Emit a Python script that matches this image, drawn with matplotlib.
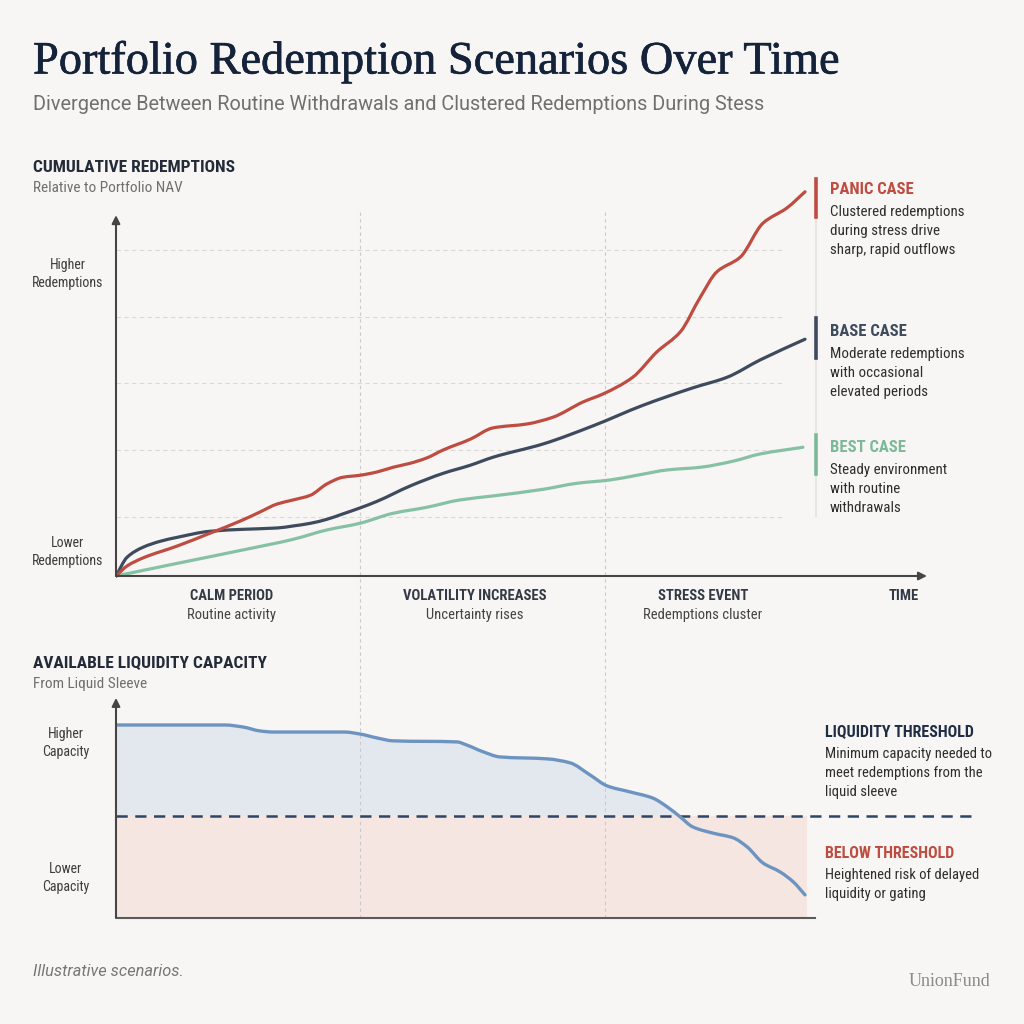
import matplotlib
matplotlib.use("Agg")
import matplotlib.pyplot as plt
from matplotlib import font_manager
from matplotlib.lines import Line2D
from matplotlib.path import Path
from matplotlib.patches import PathPatch, Rectangle
import matplotlib.patheffects as pe
import numpy as np

# pick a condensed sans if one is installed
names = {f.name for f in font_manager.fontManager.ttflist}
SANS = "Roboto"
for cand in ["Roboto Condensed", "Liberation Sans Narrow"]:
    if cand in names:
        SANS = cand
        break
SERIF = "Liberation Serif"

# ---- data: cumulative redemptions (time index 0-100, arbitrary NAV units)
panic_t = [0, 1.6, 3.9, 8.9, 13.6, 18.4, 20.9, 23.4, 25.7, 28.2, 30.6, 32.9, 35.4, 37.9,
           40.2, 42.7, 45.1, 47.5, 51.4, 54.7, 59.7, 63.4, 67.8, 70.7, 75.0, 78.5, 81.9,
           84.8, 87.2, 90.6, 93.9, 97.4, 100]
panic_v = [0, 0.15, 0.27, 0.45, 0.64, 0.84, 0.96, 1.08, 1.14, 1.21, 1.38, 1.48, 1.51, 1.56,
           1.63, 1.69, 1.77, 1.89, 2.05, 2.22, 2.28, 2.38, 2.61, 2.73, 2.98, 3.36, 3.66,
           4.18, 4.56, 4.78, 5.29, 5.52, 5.76]

base_t = [0, 1.6, 3.9, 6.4, 8.9, 13.6, 18.4, 23.4, 25.7, 28.2, 30.6, 32.9, 35.4, 37.9,
          42.7, 47.5, 51.4, 54.7, 62.0, 69.2, 76.5, 83.7, 88.7, 93.5, 100]
base_v = [0, 0.28, 0.43, 0.52, 0.58, 0.67, 0.70, 0.72, 0.75, 0.79, 0.85, 0.93, 1.02, 1.12,
          1.35, 1.54, 1.66, 1.78, 1.98, 2.25, 2.56, 2.82, 2.98, 3.24, 3.55]

best_t = [0, 8.9, 18.4, 25.7, 30.6, 35.4, 40.2, 45.1, 49.9, 54.7, 62.0, 66.9, 71.7, 75.6,
          80.0, 84.8, 89.5, 93.5, 99.7]
best_v = [0, 0.19, 0.39, 0.55, 0.69, 0.79, 0.94, 1.03, 1.14, 1.20, 1.30, 1.39, 1.44, 1.51,
          1.59, 1.63, 1.72, 1.83, 1.93]

grid_levels = [0.88, 1.89, 2.89, 3.88, 4.89]
phase_bounds = [35.4, 71.0]
phase_centers = [16.8, 52.1, 85.2]
phase_names = ["CALM PERIOD", "VOLATILITY INCREASES", "STRESS EVENT"]
phase_notes = ["Routine activity", "Uncertainty rises", "Redemptions cluster"]

# ---- data: available liquidity capacity (0-100 scale)
cap_t = [0, 15.8, 18.4, 20.9, 22.8, 33.2, 35.4, 37.9, 40.2, 49.5, 50.9, 53.3, 55.7, 62.6,
         65.9, 68.8, 71.3, 74.6, 77.9, 80.0, 81.9, 83.7, 86.6, 89.6, 91.6, 93.9, 96.4,
         98.3, 100]
cap_v = [87.7, 87.7, 86.8, 85.0, 84.5, 84.5, 83.6, 81.8, 80.5, 80.0, 78.6, 75.5, 73.2, 72.3,
         70.5, 65.0, 60.0, 57.3, 54.5, 50.5, 45.9, 41.4, 38.6, 36.4, 32.3, 25.0, 20.9,
         16.4, 10.5]
threshold = 46.4

BG = "#f7f6f4"
RED = "#bf4c40"
NAVY = "#3e4a5d"
GREEN = "#86c1a4"
BLUE = "#6d94c0"
DARK = "#232b38"
GREY = "#6f6f6f"
AXC = "#454545"

W = H = 1024
fig = plt.figure(figsize=(W / 100, H / 100), dpi=100, facecolor=BG)


def ftext(x, y, s, **kw):
    kw.setdefault("va", "center")
    kw.setdefault("family", SANS)
    return fig.text(x / W, 1 - y / H, s, **kw)


def smooth(t, v):
    # cubic bezier through the points, pchip-style slopes (no overshoot)
    x = np.asarray(t, float)
    y = np.asarray(v, float)
    h = np.diff(x)
    d = np.diff(y) / h
    m = np.zeros_like(x)
    m[0], m[-1] = d[0], d[-1]
    for i in range(1, len(x) - 1):
        if d[i - 1] * d[i] > 0:
            w1 = 2 * h[i] + h[i - 1]
            w2 = h[i] + 2 * h[i - 1]
            m[i] = (w1 + w2) / (w1 / d[i - 1] + w2 / d[i])
    verts, codes = [(x[0], y[0])], [Path.MOVETO]
    for i in range(len(x) - 1):
        k = h[i] / 3
        verts += [(x[i] + k, y[i] + m[i] * k), (x[i + 1] - k, y[i + 1] - m[i + 1] * k),
                  (x[i + 1], y[i + 1])]
        codes += [Path.CURVE4] * 3
    return verts, codes


def draw_curve(a, t, v, color, lw, z):
    verts, codes = smooth(t, v)
    a.add_patch(PathPatch(Path(verts, codes), fill=False, edgecolor=color, lw=lw,
                          capstyle="round", joinstyle="round", zorder=z))


# ---------------- top panel
ax = fig.add_axes([116 / W, 1 - 580 / H, 814 / W, 395 / H])
ax.set_facecolor("none")
ax.axis("off")
ax.set_xlim(0, 118.14)
ax.set_ylim(-0.06, 5.862)

ax.hlines(grid_levels, 0, 97.1, colors="#d9d9d9", lw=0.8, linestyles=(0, (4, 3)))
for b in phase_bounds:
    ax.plot([b, b], [5.46, -1.71], color="#c9c9c9", lw=0.8, ls=(0, (3, 3)), clip_on=False)

draw_curve(ax, best_t, best_v, GREEN, 2.3, 3)
draw_curve(ax, base_t, base_v, NAVY, 2.3, 4)
draw_curve(ax, panic_t, panic_v, RED, 2.3, 5)

arrow = dict(arrowstyle="-|>", color=AXC, lw=1.5, mutation_scale=12, shrinkA=0, shrinkB=0)
ax.annotate("", xy=(117.7, 0), xytext=(0, 0), arrowprops=arrow, zorder=6)
ax.annotate("", xy=(0, 5.41), xytext=(0, 0), arrowprops=arrow, zorder=6)

# ---------------- bottom panel
bx = fig.add_axes([116 / W, 1 - 922 / H, 814 / W, 232 / H])
bx.set_facecolor("none")
bx.axis("off")
bx.set_xlim(0, 118.14)
bx.set_ylim(-1.82, 103.6)

bx.fill_between([0, 100.3], 0, threshold, color="#f6e6e2", lw=0, zorder=1)
cverts, ccodes = smooth(cap_t, cap_v)
area = PathPatch(Path(cverts + [(cap_t[-1], threshold), (cap_t[0], threshold), cverts[0]],
                      ccodes + [Path.LINETO, Path.LINETO, Path.CLOSEPOLY]),
                 facecolor="#e3e8ee", lw=0, zorder=1)
bx.add_patch(area)
area.set_clip_path(Rectangle((0, threshold), 101, 60, transform=bx.transData))

bx.vlines(phase_bounds, 0, 103.6, colors="#c9c9c9", lw=0.8, linestyles=(0, (3, 3)), zorder=2)
bx.plot([0, 124.8], [threshold, threshold], color="#2d4566", lw=1.8, ls=(0, (4.5, 3)),
        clip_on=False, zorder=3)
draw_curve(bx, cap_t, cap_v, BLUE, 2.4, 4)
bx.plot([0, 101.5], [0, 0], color="#5a5a5a", lw=1.5, zorder=5)
bx.annotate("", xy=(0, 100), xytext=(0, 0), arrowprops=arrow, zorder=6)

# ---------------- text
ftext(33, 62, "Portfolio Redemption Scenarios Over Time", family=SERIF, fontsize=33.4,
      color="#14223a",
      path_effects=[pe.withStroke(linewidth=0.45, foreground="#14223a")])
ftext(33, 105, "Divergence Between Routine Withdrawals and Clustered Redemptions During Stess",
      family="Roboto", fontsize=14.3, color=GREY)

ftext(33, 167, "CUMULATIVE REDEMPTIONS", fontsize=12.5, weight="bold", color=DARK)
ftext(33, 188, "Relative to Portfolio NAV", fontsize=11, color=GREY)
ftext(68, 274, "Higher\nRedemptions", fontsize=10, color="#3d3d3d", ha="center",
      linespacing=1.45)
ftext(68, 552, "Lower\nRedemptions", fontsize=10, color="#3d3d3d", ha="center",
      linespacing=1.45)

for c, n, s in zip(phase_centers, phase_names, phase_notes):
    xp = 116 + c * 6.89
    ftext(xp, 596, n, fontsize=10.5, weight="bold", color="#333a45", ha="center")
    ftext(xp, 615, s, fontsize=10.5, color="#444444", ha="center")
ftext(904, 596, "TIME", fontsize=10.5, weight="bold", color="#333a45", ha="center")

# scenario notes
fig.add_artist(Line2D([816 / W, 816 / W], [1 - 179 / H, 1 - 517 / H], color="#e2e2e2",
                      lw=1.2, transform=fig.transFigure))
notes = [
    (189, 179, 217, "PANIC CASE", RED,
     ["Clustered redemptions", "during stress drive", "sharp, rapid outflows"]),
    (331, 318, 358, "BASE CASE", NAVY,
     ["Moderate redemptions", "with occasional", "elevated periods"]),
    (447, 435, 474, "BEST CASE", "#7db898",
     ["Steady environment", "with routine", "withdrawals"]),
]
for y0, b0, b1, head, col, lines in notes:
    fig.add_artist(Line2D([816 / W, 816 / W], [1 - b0 / H, 1 - b1 / H], color=col, lw=2.6,
                          transform=fig.transFigure))
    ftext(830, y0, head, fontsize=12, weight="bold", color=col)
    for i, ln in enumerate(lines):
        ftext(830, y0 + 23 + i * 19, ln, fontsize=10.8, color="#2e2e2e")

ftext(33, 663, "AVAILABLE LIQUIDITY CAPACITY", fontsize=12.5, weight="bold", color=DARK)
ftext(33, 684, "From Liquid Sleeve", fontsize=11, color=GREY)
ftext(66, 743, "Higher\nCapacity", fontsize=10, color="#3d3d3d", ha="center", linespacing=1.45)
ftext(66, 878, "Lower\nCapacity", fontsize=10, color="#3d3d3d", ha="center", linespacing=1.45)

ftext(825, 732, "LIQUIDITY THRESHOLD", fontsize=11.5, weight="bold", color="#1f2d45")
for i, ln in enumerate(["Minimum capacity needed to", "meet redemptions from the",
                        "liquid sleeve"]):
    ftext(825, 754 + i * 19, ln, fontsize=10.5, color="#2e2e2e")
ftext(825, 853, "BELOW THRESHOLD", fontsize=11.5, weight="bold", color=RED)
for i, ln in enumerate(["Heightened risk of delayed", "liquidity or gating"]):
    ftext(825, 875 + i * 19, ln, fontsize=10.5, color="#2e2e2e")

ftext(33, 972, "Illustrative scenarios.", family="Roboto", fontsize=11.8, style="italic",
      color="#777777")
ftext(990, 982, "UnionFund", family=SERIF, fontsize=13, color="#8a8a8a", ha="right")

fig.savefig("out.png", dpi=100, facecolor=BG)
